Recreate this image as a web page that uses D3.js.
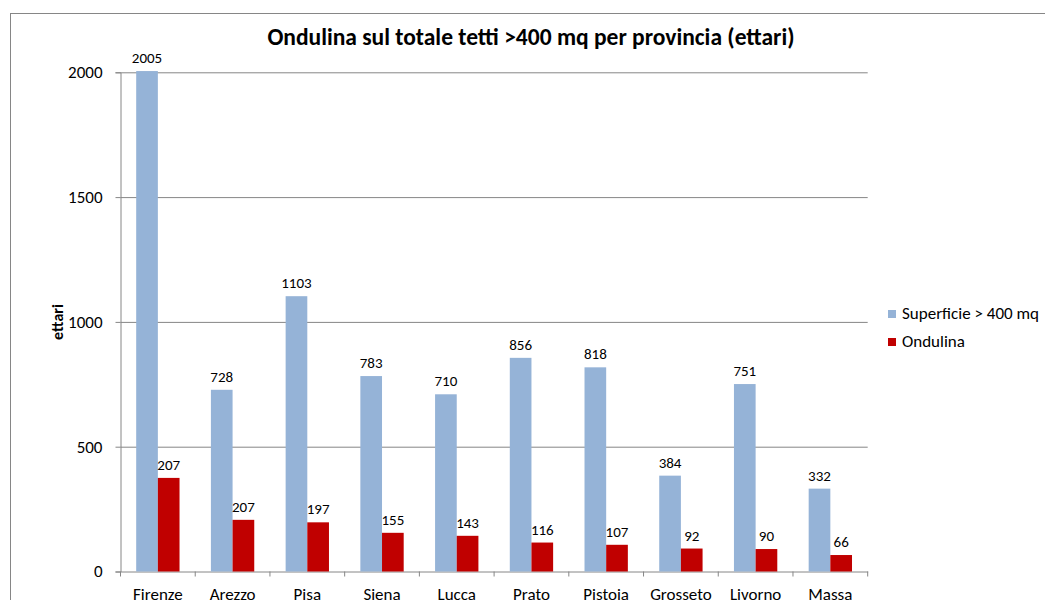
<!DOCTYPE html>
<html>
<head>
<meta charset="utf-8">
<script src="https://cdn.jsdelivr.net/npm/d3@7"></script>
<style>
  body { margin: 0; background: #fff; }
  text { font-family: Carlito, Calibri, Lato, "Open Sans", sans-serif; }
</style>
</head>
<body>
<script>
// Data
const provinces = ["Firenze", "Arezzo", "Pisa", "Siena", "Lucca", "Prato", "Pistoia", "Grosseto", "Livorno", "Massa"];
const superficie = [2005, 728, 1103, 783, 710, 856, 818, 384, 751, 332];
const ondulina = [375, 207, 197, 155, 143, 116, 107, 92, 90, 66];
// labels as printed on the chart (Firenze label differs from its bar)
const ondulinaLabels = ["207", "207", "197", "155", "143", "116", "107", "92", "90", "66"];
const seriesNames = ["Superficie > 400 mq", "Ondulina"];
const yTicks = [0, 500, 1000, 1500, 2000];

let width = 1045;
let height = 600;
let marginTop = 72.3;
let marginLeft = 120.5;
let marginRight = 1045 - 867.7;
let zeroY = 571.5;
let colors = ["#95b3d7", "#c00000"];
let font = "Carlito, Calibri, Lato, sans-serif";

let svg = d3.select("body").append("svg")
    .attr("width", width)
    .attr("height", height)
    .attr("viewBox", [0, 0, width, height]);

// chart frame
svg.append("rect")
    .attr("x", 10.5)
    .attr("y", 13.5)
    .attr("width", 1100)
    .attr("height", 700)
    .attr("fill", "none")
    .attr("stroke", "#868686")
    .attr("stroke-width", 1);

// scales
let x = d3.scaleBand()
    .domain(provinces)
    .range([marginLeft, width - marginRight]);

let y = d3.scaleLinear()
    .domain([0, 2000])
    .range([zeroY, marginTop]);

let barW = x.bandwidth() * 0.29;
let sub = d3.scaleBand()
    .domain([0, 1])
    .range([x.bandwidth() / 2 - barW, x.bandwidth() / 2 + barW]);

// gridlines + y axis
svg.append("g")
    .attr("transform", `translate(${marginLeft},0)`)
    .call(d3.axisLeft(y).tickValues(yTicks).tickFormat(d3.format("d")).tickSize(5).tickPadding(13))
    .call(g => g.select(".domain").attr("stroke", "#868686"))
    .call(g => g.selectAll(".tick line").attr("stroke", "#868686"))
    .call(g => g.selectAll(".tick").filter(d => d > 0).append("line")
        .attr("x1", 0)
        .attr("x2", width - marginRight - marginLeft)
        .attr("stroke", "#868686"))
    .call(g => g.selectAll("text")
        .attr("fill", "#000")
        .style("font-size", "17px")
        .style("font-family", font));

// x axis
svg.append("g")
    .attr("transform", `translate(0,${zeroY})`)
    .call(d3.axisBottom(x).tickSize(0).tickPadding(16).tickSizeOuter(0))
    .call(g => g.select(".domain").attr("stroke", "#868686"))
    .call(g => g.selectAll("text")
        .attr("fill", "#000")
        .style("font-size", "17px")
        .style("font-family", font));

// category separators
svg.append("g")
    .selectAll("line")
    .data(provinces.concat(["end"]))
    .join("line")
    .attr("x1", (d, i) => marginLeft + i * x.step())
    .attr("x2", (d, i) => marginLeft + i * x.step())
    .attr("y1", zeroY)
    .attr("y2", zeroY + 5)
    .attr("stroke", "#868686");

// bars
let series = [superficie, ondulina];
let labels = [superficie.map(String), ondulinaLabels];

series.forEach((values, s) => {
    let g = svg.append("g");
    g.selectAll("rect")
        .data(values)
        .join("rect")
        .attr("x", (d, i) => x(provinces[i]) + sub(s))
        .attr("y", d => y(d))
        .attr("width", sub.bandwidth())
        .attr("height", d => zeroY - y(d))
        .attr("fill", colors[s]);
    g.selectAll("text")
        .data(values)
        .join("text")
        .attr("x", (d, i) => x(provinces[i]) + sub(s) + sub.bandwidth() / 2)
        .attr("y", d => y(d) - 8)
        .attr("text-anchor", "middle")
        .style("font-size", "15px")
        .text((d, i) => labels[s][i]);
});

// title
svg.append("text")
    .attr("x", 531)
    .attr("y", 45)
    .attr("text-anchor", "middle")
    .style("font-size", "23.5px")
    .style("font-weight", "bold")
    .text("Ondulina sul totale tetti >400 mq per provincia (ettari)");

// y axis title
svg.append("text")
    .attr("transform", `translate(63,322) rotate(-90)`)
    .attr("text-anchor", "middle")
    .style("font-size", "16px")
    .style("font-weight", "bold")
    .text("ettari");

// legend
let legend = svg.append("g")
    .selectAll("g")
    .data(seriesNames)
    .join("g")
    .attr("transform", (d, i) => `translate(888,${310 + i * 28})`);

legend.append("rect")
    .attr("width", 8)
    .attr("height", 8)
    .attr("fill", (d, i) => colors[i]);

legend.append("text")
    .attr("x", 14)
    .attr("y", 9)
    .style("font-size", "17px")
    .text(d => d);
</script>
</body>
</html>
